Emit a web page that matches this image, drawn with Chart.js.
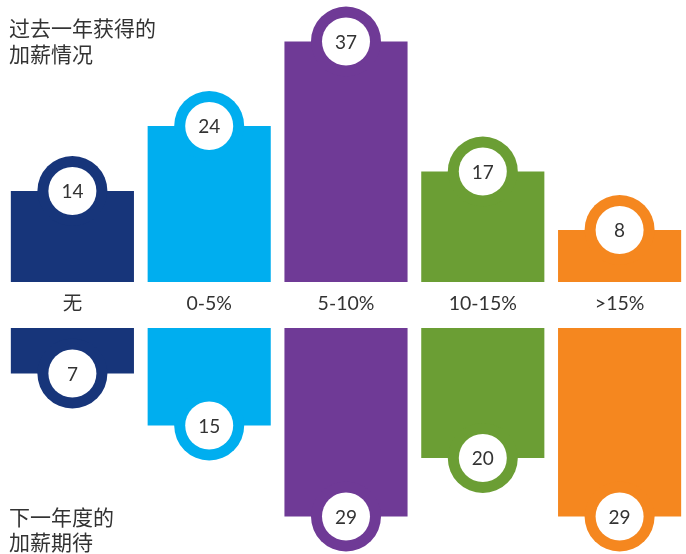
<!DOCTYPE html>
<html><head><meta charset="utf-8">
<script src="https://cdn.jsdelivr.net/npm/chart.js@4/dist/chart.umd.min.js"></script>
<style>
html,body{margin:0;padding:0;background:#fff;overflow:hidden;width:686px;height:554px}
#wrap{position:relative;width:688px;height:554px}
</style></head><body>
<div id="wrap"><canvas id="c"></canvas></div>
<script>
const categories = ['无', '0-5%', '5-10%', '10-15%', '>15%'];
const pastYear = [14, 24, 37, 17, 8];
const nextYear = [7, 15, 29, 20, 29];
const colors = ['#17357A', '#00AEEF', '#6F3A96', '#6B9E34', '#F5871F'];
const topTitle = ['过去一年获得的', '加薪情况'];
const bottomTitle = ['下一年度的', '加薪期待'];

const GAP = 3.54;           // half of the label band, in value units
const TEXT = '#333333';
const NUM_FONT = '19px Lato, "Noto Sans CJK SC", sans-serif';
const LBL_FONT = '19.5px Lato, "Noto Sans CJK SC", sans-serif';
const TTL_FONT = '21px "Noto Sans CJK SC", sans-serif';

const topRanges = pastYear.map(v => [GAP, GAP + v]);
const bottomRanges = nextYear.map(v => [-GAP - v, -GAP]);

const bubblePlugin = {
  id: 'bubbles',
  afterDatasetsDraw(chart) {
    const ctx = chart.ctx;
    const xs = chart.scales.x, ys = chart.scales.y;
    const drawBubble = (x, y, col, val) => {
      ctx.beginPath(); ctx.arc(x, y, 35, 0, Math.PI * 2); ctx.fillStyle = col; ctx.fill();
      ctx.beginPath(); ctx.arc(x, y, 24, 0, Math.PI * 2); ctx.fillStyle = '#fff'; ctx.fill();
      ctx.fillStyle = TEXT; ctx.font = NUM_FONT; ctx.textAlign = 'center'; ctx.textBaseline = 'middle';
      ctx.fillText(String(val), x, y + 1);
    };
    ctx.save();
    categories.forEach((c, i) => {
      const x = xs.getPixelForValue(i);
      drawBubble(x, ys.getPixelForValue(GAP + pastYear[i]), colors[i], pastYear[i]);
      drawBubble(x, ys.getPixelForValue(-GAP - nextYear[i]), colors[i], nextYear[i]);
      ctx.fillStyle = TEXT; ctx.font = LBL_FONT; ctx.textAlign = 'center'; ctx.textBaseline = 'middle';
      ctx.fillText(c, x, ys.getPixelForValue(0) - 1);
    });
    ctx.font = TTL_FONT; ctx.textAlign = 'left'; ctx.textBaseline = 'middle'; ctx.fillStyle = TEXT;
    topTitle.forEach((t, k) => ctx.fillText(t, 9, 28 + k * 26));
    bottomTitle.forEach((t, k) => ctx.fillText(t, 9, 517 + k * 25));
    ctx.restore();
  }
};

new Chart(document.getElementById('c'), {
  type: 'bar',
  data: {
    labels: categories,
    datasets: [
      { label: '过去一年获得的加薪情况', data: topRanges, backgroundColor: colors, grouped: false, borderWidth: 0 },
      { label: '下一年度的加薪期待', data: bottomRanges, backgroundColor: colors, grouped: false, borderWidth: 0 }
    ]
  },
  options: {
    responsive: true,
    maintainAspectRatio: false,
    animation: false,
    layout: { padding: { left: 4, right: 0, top: 0, bottom: 0 } },
    datasets: { bar: { barPercentage: 0.9, categoryPercentage: 1 } },
    scales: {
      x: { display: false, offset: true },
      y: { display: false, min: -38.31, max: 46.92 }
    },
    plugins: { legend: { display: false }, tooltip: { enabled: false } }
  },
  plugins: [bubblePlugin]
});
</script>
</body></html>
